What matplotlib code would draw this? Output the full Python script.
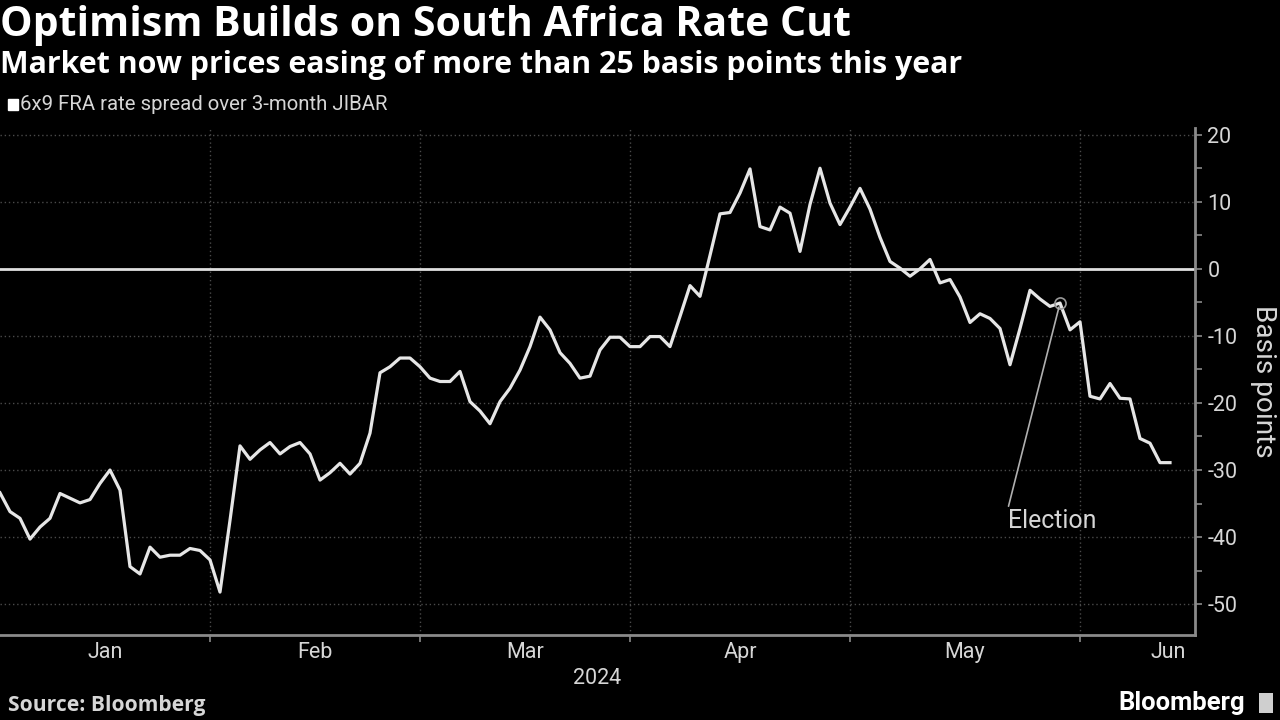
import matplotlib
matplotlib.use("Agg")
import matplotlib.pyplot as plt
import numpy as np
import pandas as pd
from matplotlib.patches import Rectangle

# ---------------- data ----------------
start_date = "2024-01-03"
end_date = "2024-06-14"
spread_bp = [
    -33.4, -36.2, -37.2, -40.3, -38.5, -37.2, -33.5, -34.2, -34.9, -34.4,
    -32.0, -30.0, -33.0, -44.4, -45.5, -41.5, -43.0, -42.7, -42.7, -41.7,
    -42.0, -43.4, -48.2, -37.5, -26.4, -28.4, -27.0, -25.9, -27.6, -26.5,
    -25.9, -27.6, -31.5, -30.4, -29.0, -30.6, -29.0, -24.5, -15.5, -14.6,
    -13.3, -13.3, -14.6, -16.3, -16.8, -16.8, -15.3, -19.8, -21.2, -23.1,
    -19.8, -17.8, -15.1, -11.6, -7.2, -9.1, -12.5, -14.1, -16.3, -16.0,
    -12.1, -10.2, -10.2, -11.6, -11.6, -10.1, -10.1, -11.6, -7.1, -2.5,
    -4.1, 2.0, 8.2, 8.4, 11.3, 14.9, 6.3, 5.8, 9.2, 8.3,
    2.6, 9.6, 15.0, 9.8, 6.6, 9.2, 12.0, 8.9, 4.7, 1.1,
    0.1, -1.1, 0.0, 1.4, -2.1, -1.6, -4.2, -8.0, -6.7, -7.4,
    -8.9, -14.3, -8.9, -3.2, -4.5, -5.6, -5.1, -9.1, -7.9, -19.0,
    -19.4, -17.1, -19.3, -19.4, -25.3, -26.0, -28.9, -28.9,
]
election_date = "2024-05-30"
election_label = "Election"
month_labels = ["Jan", "Feb", "Mar", "Apr", "May", "Jun"]
year_label = "2024"
y_ticks = [-50, -40, -30, -20, -10, 0, 10, 20]
title = "Optimism Builds on South Africa Rate Cut"
subtitle = "Market now prices easing of more than 25 basis points this year"
legend_label = "6x9 FRA rate spread over 3-month JIBAR"
y_label = "Basis points"
source = "Source: Bloomberg"
brand = "Bloomberg"

dates = pd.bdate_range(start_date, end_date)
assert len(dates) == len(spread_bp)
idx = np.arange(len(dates))

# ---------------- style ----------------
BG = "#000000"
LINE = "#e6e6e6"
GRID = "#4a4a4a"
AXC = "#8a8a8a"
TXT = "#d6d6d6"
COND = ["Roboto", "DejaVu Sans"]
WIDE = ["Open Sans", "DejaVu Sans"]
plt.rcParams["font.family"] = COND

fig = plt.figure(figsize=(12.8, 7.2), dpi=100, facecolor=BG)
renderer = fig.canvas.get_renderer()


def fit(t, target_px):
    """Scale the font size of text t so that it spans target_px pixels."""
    w = t.get_window_extent(renderer).width
    t.set_fontsize(t.get_fontsize() * target_px / w)
    return t


ax = fig.add_axes([0.0, 85 / 720, 1195 / 1280, (635 - 128) / 720])
ax.set_facecolor(BG)

xmax = len(dates) + 1.5
ax.set_xlim(0, xmax)
ax.set_ylim(-54.6, 21.0)

# month boundaries
month_start_idx = [i for i in range(len(dates)) if i == 0 or dates[i].month != dates[i - 1].month]
boundaries = month_start_idx[1:]
for b in boundaries:
    ax.axvline(b, color=GRID, lw=1.0, ls=(0, (1, 2)), zorder=1)
for yt in y_ticks:
    if yt != 0:
        ax.axhline(yt, color=GRID, lw=1.0, ls=(0, (1, 2)), zorder=1)
ax.axhline(0, color="#e0e0e0", lw=2.0, zorder=2)

ax.plot(idx, spread_bp, color=LINE, lw=2.3, zorder=3, solid_joinstyle="round")

# election annotation
ei = int(np.where(dates == pd.Timestamp(election_date))[0][0])
ev = spread_bp[ei]
ax.plot([ei], [ev], marker="o", ms=8, mfc="none", mec="#9a9a9a", mew=1.2, zorder=4)
ann = ax.annotate(election_label, xy=(ei, ev), xytext=(ei - 0.8, -37.6),
                  ha="center", va="center", color=TXT, fontsize=14,
                  arrowprops=dict(arrowstyle="-", color="#b0b0b0", lw=1.2,
                                  relpos=(0.0, 1.0), shrinkA=0, shrinkB=3),
                  zorder=4)
fit(ann, 89)

# axes styling
for s in ["left", "top"]:
    ax.spines[s].set_visible(False)
for s in ["right", "bottom"]:
    ax.spines[s].set_color(AXC)
    ax.spines[s].set_linewidth(2)

ax.yaxis.tick_right()
ax.set_yticks(y_ticks)
ax.set_yticklabels([str(v) for v in y_ticks])
ax.set_yticks(np.arange(-50, 21, 5), minor=True)
ax.tick_params(axis="y", which="both", colors=AXC, labelcolor=TXT, labelsize=15.5,
               length=5, width=1.2, pad=4, direction="out")

ax.set_xticks(boundaries)
ax.set_xticklabels([])
ax.tick_params(axis="x", which="major", colors=AXC, length=5, width=1.2)

# month labels centred in each month
ends = boundaries + [len(dates) + 10]
for lab, s, e in zip(month_labels, month_start_idx, ends):
    c = min((s + e) / 2, xmax - 2.7)
    ax.text(c, -0.035, lab, transform=ax.get_xaxis_transform(), ha="center", va="center",
            color=TXT, fontsize=15.5)
ax.text(0.5, -0.085, year_label, transform=ax.transAxes, ha="center", va="center",
        color=TXT, fontsize=15.5)

yl = fig.text(1263 / 1280, 1 - 381 / 720, y_label, rotation=-90, ha="center", va="center",
              color=TXT, fontsize=18)
fit_w = yl.get_window_extent(renderer).height
yl.set_fontsize(18 * 153 / fit_w)

# titles
t1 = fig.text(0.0, 1 - 25 / 720, title, ha="left", va="center", color="white",
              fontsize=26, fontweight="bold", family=WIDE)
fit(t1, 852)
t2 = fig.text(0.0, 1 - 65 / 720, subtitle, ha="left", va="center", color="white",
              fontsize=18.5, fontweight="bold", family=WIDE)
fit(t2, 965)
fig.patches.append(Rectangle((8 / 1280, 1 - 110 / 720), 10 / 1280, 11 / 720,
                             transform=fig.transFigure, color="white", figure=fig))
t3 = fig.text(20 / 1280, 1 - 104 / 720, legend_label, ha="left", va="center", color=TXT,
              fontsize=13)
fit(t3, 368)

t4 = fig.text(8 / 1280, 1 - 705 / 720, source, ha="left", va="center", color=TXT,
              fontsize=13, fontweight="bold", family=WIDE)
fit(t4, 195)
t5 = fig.text(1245 / 1280, 1 - 703 / 720, brand, ha="right", va="center", color="white",
              fontsize=16, fontweight="bold")
fit(t5, 127)
fig.patches.append(Rectangle((1259 / 1280, 1 - 713 / 720), 14 / 1280, 20 / 720,
                             transform=fig.transFigure, facecolor="#cfcfcf",
                             edgecolor="none", figure=fig))

fig.savefig("out.png", dpi=100, facecolor=BG)
